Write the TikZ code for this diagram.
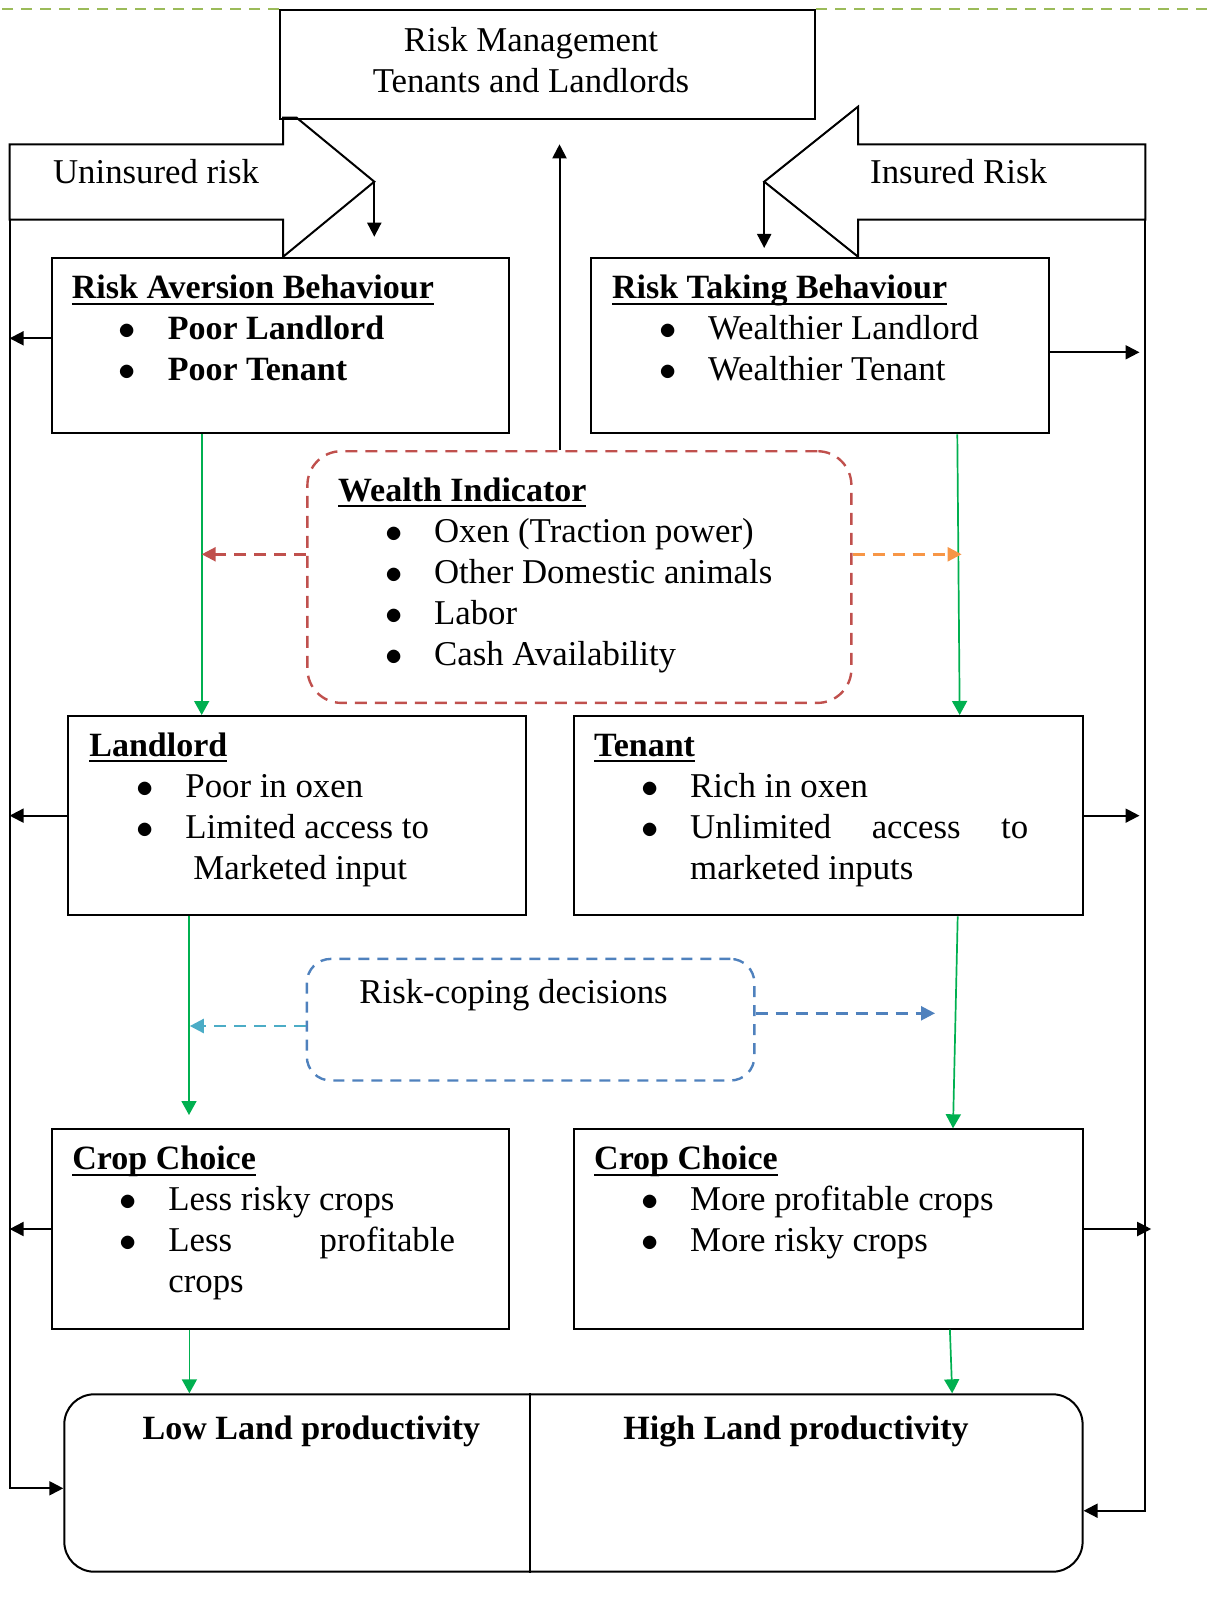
\documentclass[tikz,border=0pt]{standalone}
\usepackage{fontspec}
\setmainfont{Liberation Serif}
\usetikzlibrary{arrows.meta}

\definecolor{linegreen}{HTML}{9BBB59}
\definecolor{flowgreen}{HTML}{00B050}
\definecolor{wealthred}{HTML}{C0504D}
\definecolor{wealthorange}{HTML}{F79646}
\definecolor{copecyan}{HTML}{4BACC6}
\definecolor{copeblue}{HTML}{4F81BD}

\newcommand{\bodyfont}{\fontsize{17.4}{20.5}\selectfont}
\newcommand{\boldfont}{\fontsize{17}{20.5}\selectfont\bfseries}
% underlined bold heading, rule at fixed depth
\newcommand{\hd}[1]{\strut\setbox0\hbox{\boldfont #1}\rlap{\rule[-3pt]{\wd0}{1pt}}\box0}
\newcommand{\bitem}[1]{\strut\hspace*{23.5pt}\makebox[24.5pt][l]{$\bullet$}#1}

\tikzset{
  box/.style={draw, line width=1pt, anchor=north west, inner sep=0pt},
  txt/.style={anchor=north west, inner sep=0pt, align=left, font=\bodyfont},
  lbl/.style={inner sep=0pt, font=\bodyfont},
  arr/.style={line width=1pt, -{Triangle[length=7pt,width=7pt]}},
  garr/.style={color=flowgreen, line width=0.85pt, -{Triangle[length=7pt,width=7.5pt]}},
  darr/.style={line width=1.2pt, dash pattern=on 6pt off 4pt, -{Triangle[length=7pt,width=7pt]}},
}

\begin{document}
\begin{tikzpicture}[x=0.5pt,y=-0.5pt]
\useasboundingbox (0,0) rectangle (1213,1599);

% title box
\node [box, minimum width=267.5pt, minimum height=54.35pt] (rm) at (279,9) {};
\node [lbl, align=center] (rmtext) at (531,60) {Risk Management\\Tenants and Landlords};
\draw [linegreen, line width=1.2pt, dash pattern=on 5.5pt off 4pt] (rm.north west) -- ++(-279,0);
\draw [linegreen, line width=1.2pt, dash pattern=on 5.5pt off 4pt] (rm.north east) -- ++(399,0);

% block arrows
\draw [line width=1pt] (9.6,144.3) -- (283,144.3) -- (283,117.7) -- (296.6,117.7) -- (374.3,181.7) -- (283.2,256.7) -- (283.2,219.7) -- (9.6,219.7) -- cycle;
\node [lbl] (uninsured) at (156,171.7) {Uninsured risk};
\draw [line width=1pt] (858,106.7) -- (858,144.3) -- (1145.3,144.3) -- (1145.3,219.7) -- (858,219.7) -- (858,256.7) -- (764.2,181.7) -- cycle;
\node [lbl] (insured) at (958.6,171.7) {Insured Risk};

% behaviour boxes
\node [box, minimum width=228.65pt, minimum height=87.5pt] (ra) at (50.5,257.3) {};
\node [txt] (ratext) at ([xshift=10.5pt,yshift=-6.15pt]ra.north west) {\hd{Risk Aversion Behaviour}\\\bitem{{\boldfont Poor Landlord}}\\\bitem{{\boldfont Poor Tenant}}};
\node [box, minimum width=229.35pt, minimum height=87.5pt] (rt) at (589.7,257.3) {};
\node [txt] (rttext) at ([xshift=11pt,yshift=-6.15pt]rt.north west) {\hd{Risk Taking Behaviour}\\\bitem{Wealthier Landlord}\\\bitem{Wealthier Tenant}};

% wealth
\node [box, rounded corners=17pt, draw=wealthred, dash pattern=on 6pt off 4pt, line width=1.2pt, minimum width=272pt, minimum height=125.85pt] (wi) at (306.2,450) {};
\node [txt] (witext) at ([xshift=15.75pt,yshift=-11.15pt]wi.north west) {\hd{Wealth Indicator}\\\bitem{Oxen (Traction power)}\\\bitem{Other Domestic animals}\\\bitem{Labor}\\\bitem{Cash Availability}};

% landlord / tenant
\node [box, minimum width=228.75pt, minimum height=99.65pt] (ll) at (67.2,715) {};
\node [txt] (lltext) at ([xshift=10.9pt,yshift=-6.15pt]ll.north west) {\hd{Landlord}\\\bitem{Poor in oxen}\\\bitem{Limited access to}\\\strut\hspace*{52pt}Marketed input};
\node [box, minimum width=254.1pt, minimum height=99.65pt] (tn) at (573.4,715) {};
\node [txt] (tntext) at ([xshift=10.2pt,yshift=-6.15pt]tn.north west) {\hd{Tenant}\\\bitem{Rich in oxen}\\\bitem{\makebox[169pt][s]{Unlimited\hfill access\hfill to}}\\\strut\hspace*{48pt}marketed inputs};

% risk coping
\node [box, rounded corners=12pt, draw=copeblue, dash pattern=on 5.5pt off 4pt, line width=1.2pt, minimum width=223.8pt, minimum height=60.8pt] (rc) at (305.6,957.7) {};
\node [lbl, anchor=west] (rctext) at (359,995) {Risk-coping decisions};

% crop choice
\node [box, minimum width=228.7pt, minimum height=99.7pt] (cl) at (50.6,1128.3) {};
\node [txt] (cltext) at ([xshift=10.7pt,yshift=-6.15pt]cl.north west) {\hd{Crop Choice}\\\bitem{Less risky crops}\\\bitem{\makebox[143.3pt][s]{Less\hfill profitable}}\\\strut\hspace*{48pt}crops};
\node [box, minimum width=254.1pt, minimum height=99.7pt] (cr) at (573.4,1128.3) {};
\node [txt] (crtext) at ([xshift=10.2pt,yshift=-6.15pt]cr.north west) {\hd{Crop Choice}\\\bitem{More profitable crops}\\\bitem{More risky crops}};

% productivity
\node [box, rounded corners=15pt, minimum width=509.15pt, minimum height=88.7pt] (prod) at (63.3,1393.3) {};
\coordinate (split) at (529.8,0);
\draw [line width=1pt] (prod.north -| split) -- (prod.south -| split);
\node [lbl, font=\boldfont] (low) at (311.4,1431.7) {Low Land productivity};
\node [lbl, font=\boldfont] (high) at (796,1431.7) {High Land productivity};

% black connectors
\coordinate (utip) at (374.3,181.7);
\coordinate (uend) at (374.3,236.7);
\draw [arr] (utip) -- (uend);
\coordinate (itip) at (764.2,181.7);
\coordinate (iend) at (764.2,248);
\draw [arr] (itip) -- (iend);
\coordinate (upend) at (559.5,144.3);
\draw [arr] (wi.north -| upend) -- (upend);

\coordinate (ltop) at (9.6,219.7);
\coordinate (lbus) at (9.6,1488.3);
\coordinate (rtop) at (1145.3,219.7);
\coordinate (rbus) at (1145.3,1510.7);
\coordinate (rtip) at (1139.5,0);
\coordinate (crtip) at (1151.2,0);
\coordinate (raarr) at (0,338.3);
\coordinate (rtarr) at (0,352.3);
\draw [arr] (ltop) -- (lbus) -- (lbus -| prod.west);
\draw [arr] (rtop) -- (rbus) -- (rbus -| prod.east);
\draw [arr] (ra.west |- raarr) -- (lbus |- raarr);
\draw [arr] (ll.west) -- (ll.west -| lbus);
\draw [arr] (cl.west) -- (cl.west -| lbus);
\draw [arr] (rt.east |- rtarr) -- (rtip |- rtarr);
\draw [arr] (tn.east) -- (tn.east -| rtip);
\draw [arr] (cr.east) -- (cr.east -| crtip);

% green flow
\coordinate (ga) at (201.7,0);
\draw [garr] (ra.south -| ga) -- (ll.north -| ga);
\coordinate (gb1) at (957.3,0);
\coordinate (gb2) at (959.7,0);
\draw [garr] (rt.south -| gb1) -- (tn.north -| gb2);
\coordinate (gcend) at (189,1115);
\draw [garr] (ll.south -| gcend) -- (gcend);
\coordinate (gd1) at (957.7,0);
\coordinate (gd2) at (953,0);
\draw [garr] (tn.south -| gd1) -- (cr.north -| gd2);
\coordinate (ge) at (189.4,0);
\draw [garr] (cl.south -| ge) -- (prod.north -| ge);
\coordinate (gf1) at (949.9,0);
\coordinate (gf2) at (952.2,0);
\draw [garr] (cr.south -| gf1) -- (prod.north -| gf2);

% dashed influences
\coordinate (wl) at (201.7,554.3);
\draw [darr, wealthred] (wi.west |- wl) -- (wl);
\coordinate (wr) at (961.6,554.3);
\draw [darr, wealthorange] (wi.east |- wr) -- (wr);
\coordinate (cpl) at (189.8,1026);
\draw [darr, copecyan] (rc.west |- cpl) -- (cpl);
\coordinate (cpr) at (935,1013.3);
\draw [darr, copeblue] (rc.east |- cpr) -- (cpr);
\end{tikzpicture}
\end{document}
